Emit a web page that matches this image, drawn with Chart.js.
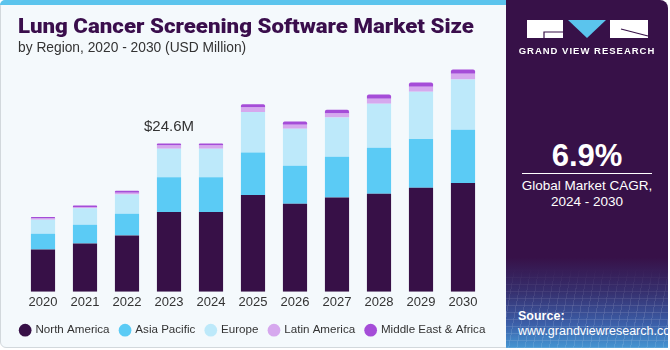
<!DOCTYPE html>
<html><head><meta charset="utf-8">
<script src="https://cdn.jsdelivr.net/npm/chart.js@4.4.1/dist/chart.umd.min.js"></script>
<style>
html,body{margin:0;padding:0;background:#fff;}
#wrap{position:relative;width:670px;height:350px;overflow:hidden;font-family:"Liberation Sans",Arial,sans-serif;}
#left{position:absolute;left:0;top:0;width:507px;height:348px;background:#F4F9FC;border:1px solid #D2D8DC;border-radius:6px 0 0 6px;box-sizing:border-box;}
#stripe{position:absolute;left:0;top:0;width:507px;height:5px;background:#5BC4ED;border-radius:5px 0 0 0;}
#title{position:absolute;left:18px;top:14px;font-family:Roboto,"Liberation Sans",sans-serif;font-weight:900;font-size:20px;color:#3A0E4C;white-space:nowrap;transform-origin:0 0;}
#sub{position:absolute;left:18px;top:39px;font-size:14.5px;color:#333;white-space:nowrap;transform-origin:0 0;}
#cv{position:absolute;left:0;top:0;}
#right{position:absolute;left:506px;top:0;width:162px;height:348px;border-radius:0 8px 0 0;overflow:hidden;
 background:linear-gradient(to bottom,#371148 0%,#371148 74%,#36306f 84%,#3b5ea8 93%,#4596d2 100%);}
#grid{position:absolute;left:0;top:268px;width:162px;height:80px;opacity:0.22;
 background:repeating-linear-gradient(100deg,rgba(255,255,255,0.5) 0 1px,transparent 1px 8px),repeating-linear-gradient(0deg,rgba(255,255,255,0.5) 0 1px,transparent 1px 7px);
 -webkit-mask-image:linear-gradient(to bottom,transparent 0%,#000 50%);mask-image:linear-gradient(to bottom,transparent 0%,#000 50%);}
.rt{position:absolute;color:#fff;white-space:nowrap;}
</style></head>
<body>
<div id="wrap">
 <div id="left"></div>
 <div id="stripe"></div>
 <canvas id="cv" width="506" height="345"></canvas>
 <div id="title">Lung Cancer Screening Software Market Size</div>
 <div id="sub">by Region, 2020 - 2030 (USD Million)</div>
 <div id="right">
  <div id="grid"></div>
  <svg style="position:absolute;left:0;top:0" width="162" height="60">
   <rect x="21" y="20" width="36" height="18" fill="#fff"/>
   <polyline points="57,32 38,32 38,38" fill="none" stroke="#371148" stroke-width="1.2"/>
   <polygon points="62,20 100,20 81,38" fill="#5BC4ED"/>
   <rect x="104" y="20" width="38" height="18" fill="#fff"/>
   <line x1="115" y1="29" x2="142" y2="36" stroke="#371148" stroke-width="1.2"/>
  </svg>
  <div class="rt" style="left:0;width:162px;text-align:center;top:45px;font-size:9.5px;font-weight:bold;letter-spacing:1px;">GRAND VIEW RESEARCH</div>
  <div class="rt" style="left:0;width:162px;text-align:center;top:138px;font-size:31px;font-weight:bold;">6.9%</div>
  <div style="position:absolute;left:16px;top:173px;width:130px;height:1px;background:#fff;"></div>
  <div class="rt" style="left:0;width:162px;text-align:center;top:178px;font-size:13.5px;line-height:16px;">Global Market CAGR,<br>2024 - 2030</div>
  <div class="rt" style="left:12px;top:309px;font-size:12.5px;font-weight:bold;">Source:</div>
  <div class="rt" style="left:12px;top:324px;font-size:12.5px;">www.grandviewresearch.com</div>
 </div>
</div>
<script>
const years = ['2020','2021','2022','2023','2024','2025','2026','2027','2028','2029','2030'];
const northAmerica = [7.02, 8.01, 9.34, 13.22, 13.22, 16.04, 14.60, 15.64, 16.26, 17.25, 18.03];
const asiaPacific  = [2.60, 3.10, 3.60, 5.80, 5.80, 7.07, 6.30, 6.75, 7.63, 8.08, 8.84];
const europe       = [2.32, 2.77, 3.20, 4.70, 4.70, 6.70, 6.14, 6.52, 7.30, 7.85, 8.34];
const latinAmerica = [0.22, 0.17, 0.28, 0.55, 0.55, 0.76, 0.66, 0.66, 0.83, 0.83, 0.95];
const mea          = [0.23, 0.27, 0.33, 0.33, 0.33, 0.56, 0.55, 0.61, 0.71, 0.71, 0.71];
const labelIndex = 3; // annotated year 2023

(function(){
  const t=document.getElementById('title'); t.style.transform='scaleX('+(456/t.offsetWidth)+')';
  const s=document.getElementById('sub'); s.style.transform='scaleX('+(228/s.offsetWidth)+')';
})();

const series = [
  ['North America', northAmerica, '#371047'],
  ['Asia Pacific', asiaPacific, '#5BCBF5'],
  ['Europe', europe, '#BDE9FA'],
  ['Latin America', latinAmerica, '#D6A8EE'],
  ['Middle East & Africa', mea, '#A54DD8']
];

const labelPlugin = {
  id:'valLabel',
  afterDatasetsDraw(chart){
    const meta = chart.getDatasetMeta(series.length-1);
    const el = meta.data[labelIndex];
    let tot = 0; series.forEach(s=>tot+=s[1][labelIndex]);
    const ctx = chart.ctx;
    ctx.save();
    ctx.font = '15px "Liberation Sans", Arial, sans-serif';
    ctx.fillStyle = '#333';
    ctx.textAlign = 'center';
    ctx.textBaseline = 'middle';
    ctx.fillText('$'+tot.toFixed(1)+'M', el.x, el.y - 17);
    ctx.restore();
  }
};

const FONT = '"Liberation Sans", Arial, sans-serif';
const cv = document.getElementById('cv');
const chart = new Chart(cv, {
  type:'bar',
  data:{
    labels: years,
    datasets: series.map((s,i)=>({
      label:s[0], data:s[1], backgroundColor:s[2], borderWidth:0,
      borderRadius: i===series.length-1 ? {topLeft:2,topRight:2,bottomLeft:0,bottomRight:0} : 0,
      borderSkipped:false,
      barPercentage:0.575, categoryPercentage:1.0
    }))
  },
  options:{
    responsive:false, animation:false, devicePixelRatio:1,
    layout:{padding:{left:0,right:0,top:50,bottom:4}},
    plugins:{
      legend:{position:'bottom',
        labels:{usePointStyle:true,pointStyle:'circle',boxWidth:9,boxHeight:9,padding:11,color:'#333',
          font:{family:FONT,size:11.6}}},
      tooltip:{enabled:false}
    },
    scales:{
      x:{stacked:true,offset:true,grid:{display:false,drawTicks:false},border:{display:false},
         ticks:{color:'#333',padding:3,font:{family:FONT,size:13}}},
      y:{stacked:true,display:true,position:'left',min:0,max:38,grid:{display:false,drawTicks:false},border:{display:false},
         ticks:{display:false},afterFit(s){s.width=22;}},
      y2:{display:true,position:'right',grid:{display:false,drawTicks:false},border:{display:false},
         ticks:{display:false},afterFit(s){s.width=22;}}
    }
  },
  plugins:[labelPlugin]
});
const ca = chart.chartArea;
cv.style.top = (292 - ca.bottom) + 'px';
chart.options.scales.y.max = (ca.bottom - ca.top) * 24.6 / 148.3;
chart.update('none');
</script>
</body></html>
